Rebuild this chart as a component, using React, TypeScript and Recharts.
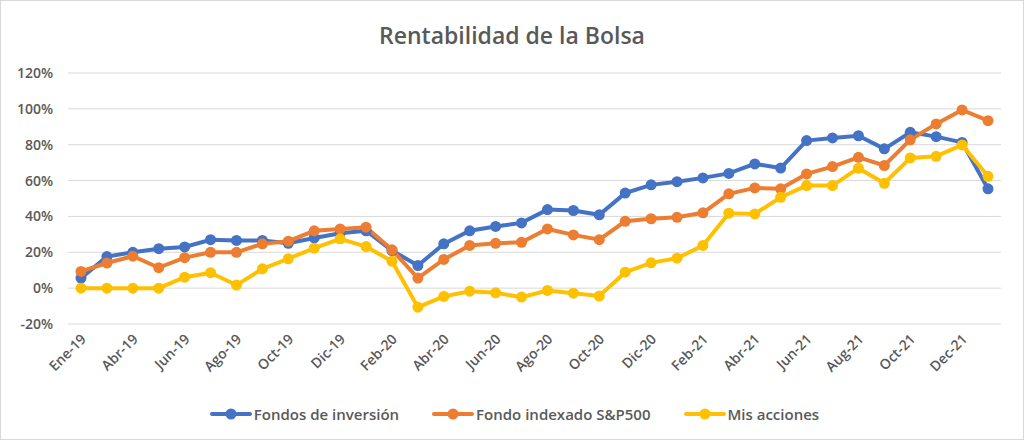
import React from "react";
import { LineChart, Line, XAxis, YAxis, CartesianGrid, Legend } from "recharts";

const categories = ["Ene-19","Mar-19","Abr-19","May-19","Jun-19","Jul-19","Ago-19","Sep-19","Oct-19","Nov-19","Dic-19","Ene-20","Feb-20","Mar-20","Abr-20","May-20","Jun-20","Jul-20","Ago-20","Sep-20","Oct-20","Nov-20","Dic-20","Ene-21","Feb-21","Mar-21","Abr-21","May-21","Jun-21","Jul-21","Aug-21","Sep-21","Oct-21","Nov-21","Dec-21","Jan-22"];
const fondosInversion = [5.6,17.6,20,22,23,27,26.6,26.6,25,28,30.6,32,21,12.6,24.7,32,34.4,36.4,43.8,43.3,40.9,53,57.6,59.4,61.5,64,69.3,67,82.3,83.8,85,77.7,86.9,84.5,81.3,55.4];
const fondoIndexado = [9.3,14,17.8,11.4,17,20,20,24.7,26.2,32,33,34,21.4,5.6,16,23.8,25,25.6,33,29.7,27,37.3,38.7,39.5,42,52.6,55.9,55.4,63.7,67.8,73,68.4,82.7,91.6,99.4,93.4];
const misAcciones = [0,0,0,0,6.1,8.6,1.7,10.8,16.4,22.3,27.5,23.2,15,-10.6,-4.6,-1.7,-2.6,-5,-1.3,-2.8,-4.4,8.9,14.1,16.7,23.8,41.8,41.4,50.7,57.2,57.2,66.9,58.5,72.6,73.5,79.9,62.4];
const yTicks = [-20,0,20,40,60,80,100,120];

const seriesKeys = ["fondos", "indexado", "acciones"];
const seriesNames: Record<string, string> = {
  fondos: "Fondos de inversión",
  indexado: "Fondo indexado S&P500",
  acciones: "Mis acciones",
};
const colors: Record<string, string> = { fondos: "#4472C4", indexado: "#ED7D31", acciones: "#FFC000" };

const data = categories.map((c, i) => ({
  cat: c,
  fondos: fondosInversion[i],
  indexado: fondoIndexado[i],
  acciones: misAcciones[i],
}));

const FONT = "'Open Sans', sans-serif";
const TEXT = "#595959";

const XTick = (props: any) => {
  const { x, y, payload } = props;
  return (
    <g transform={`translate(${x + 6},${y + 8})`}>
      <text x={0} y={0} textAnchor="end" transform="rotate(-45)" fill={TEXT} fontSize={14} fontWeight={600} fontFamily={FONT}>
        {payload.value}
      </text>
    </g>
  );
};

const LegendContent = (props: any) => {
  const payload = [...(props.payload || [])].sort(
    (a: any, b: any) => seriesKeys.indexOf(a.dataKey) - seriesKeys.indexOf(b.dataKey)
  );
  return (
    <div style={{ height: 28, display: "flex", justifyContent: "center", alignItems: "center", paddingLeft: 20, fontFamily: FONT, fontSize: 15, fontWeight: 600, color: TEXT }}>
      {payload.map((p: any, i: number) => (
        <div key={i} style={{ display: "flex", alignItems: "center", marginRight: i < 2 ? 33 : 0 }}>
          <svg width={42} height={14} style={{ marginRight: 2 }}>
            <line x1={2} y1={7} x2={40} y2={7} stroke={p.color} strokeWidth={4} strokeLinecap="round" />
            <circle cx={21} cy={7} r={5.5} fill={p.color} />
          </svg>
          <span>{p.value}</span>
        </div>
      ))}
    </div>
  );
};

export default function App() {
  return (
    <div style={{ position: "absolute", left: 0, top: 0, width: 1022, height: 438, border: "1px solid #d9d9d9", background: "#fff" }}>
      <div style={{ position: "absolute", left: 0, top: 19, width: 1022, textAlign: "center", fontFamily: FONT, fontSize: 23, fontWeight: 600, color: TEXT, lineHeight: "30px" }}>
        Rentabilidad de la Bolsa
      </div>
      <div style={{ position: "absolute", left: -1, top: -1 }}>
        <LineChart width={1024} height={440} data={data} margin={{ top: 73, right: 23, left: 8, bottom: 12 }}>
          <CartesianGrid vertical={false} stroke="#d9d9d9" strokeWidth={1} />
          <XAxis dataKey="cat" interval={1} axisLine={false} tickLine={false} height={76} padding={{ left: 13, right: 13 }} tick={<XTick />} />
          <YAxis
            domain={[-20, 120]}
            ticks={yTicks}
            tickFormatter={(v: number) => `${v}%`}
            axisLine={false}
            tickLine={false}
            width={60}
            tickMargin={9}
            tick={{ fill: TEXT, fontSize: 14, fontWeight: 600, fontFamily: FONT }}
          />
          <Legend verticalAlign="bottom" content={<LegendContent />} />
          <Line type="linear" dataKey="fondos" name={seriesNames.fondos} stroke={colors.fondos} strokeWidth={4} dot={{ r: 5.5, fill: colors.fondos, stroke: colors.fondos, strokeWidth: 0 }} isAnimationActive={false} />
          <Line type="linear" dataKey="indexado" name={seriesNames.indexado} stroke={colors.indexado} strokeWidth={4} dot={{ r: 5.5, fill: colors.indexado, stroke: colors.indexado, strokeWidth: 0 }} isAnimationActive={false} />
          <Line type="linear" dataKey="acciones" name={seriesNames.acciones} stroke={colors.acciones} strokeWidth={4} dot={{ r: 5.5, fill: colors.acciones, stroke: colors.acciones, strokeWidth: 0 }} isAnimationActive={false} />
        </LineChart>
      </div>
    </div>
  );
}
